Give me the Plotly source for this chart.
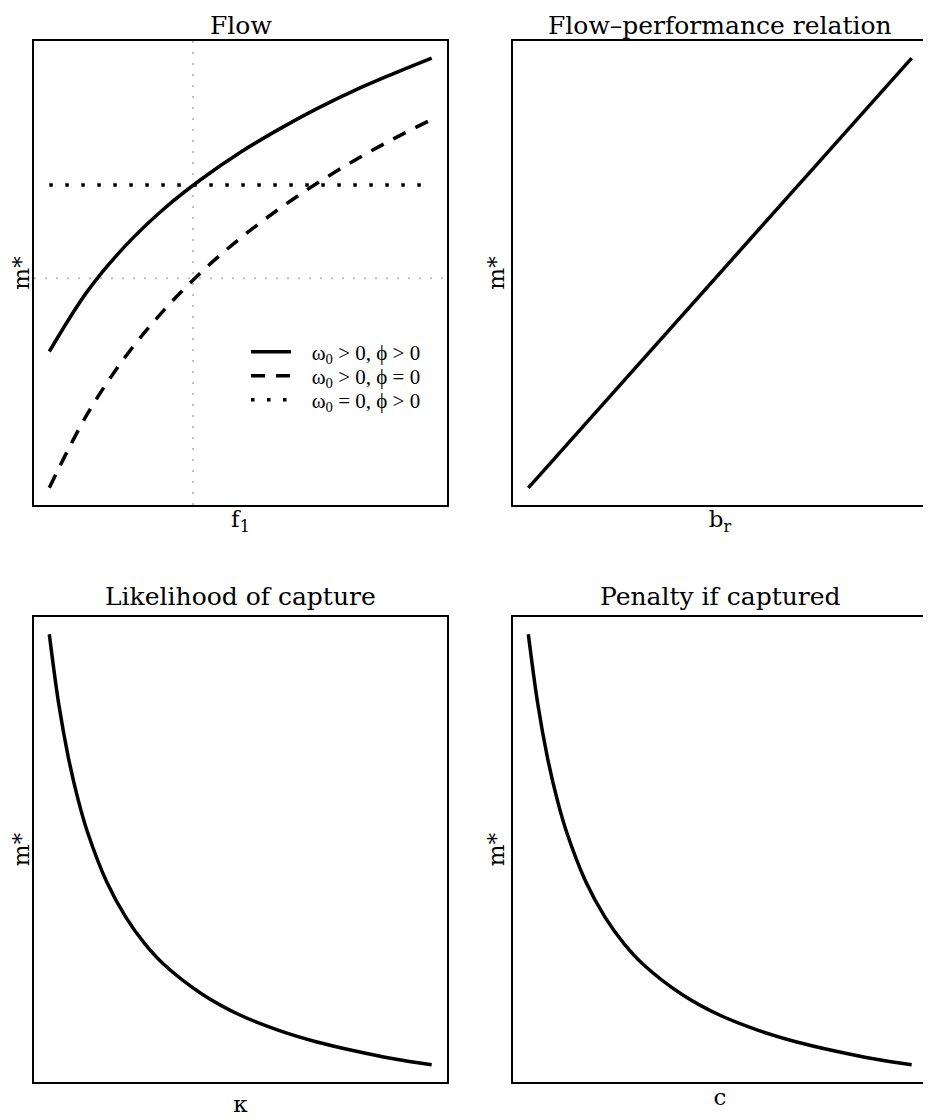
import plotly.graph_objects as go

# ---------------- data ----------------
# Panel 1: Flow (x = f1, normalised 0..1)
f1 = [0.0, 0.1, 0.2, 0.3, 0.4, 0.5, 0.6, 0.7, 0.8, 0.9, 1.0]
m_pos_pos = [0.316, 0.456, 0.562, 0.647, 0.717, 0.778, 0.831, 0.879, 0.922, 0.960, 0.996]
m_pos_zero = [0.0, 0.172, 0.305, 0.412, 0.502, 0.579, 0.646, 0.706, 0.760, 0.809, 0.854]
m_zero_pos = [0.702] * len(f1)
f1_ref = 0.376
m_ref = 0.486

# Panel 2: Flow-performance relation
b_r = [0.0, 0.25, 0.5, 0.75, 1.0]
m_br = [0.0, 0.25, 0.5, 0.75, 1.0]

# Panel 3: Likelihood of capture
kappa = [0.0, 0.025, 0.05, 0.075, 0.1, 0.15, 0.2, 0.25, 0.3, 0.4, 0.5, 0.6, 0.7, 0.8, 0.9, 1.0]
m_kappa = [1.0, 0.836, 0.713, 0.617, 0.540, 0.425, 0.343, 0.281, 0.233, 0.164, 0.115, 0.080, 0.053, 0.032, 0.014, 0.0]

# Panel 4: Penalty if captured
c_pen = [0.0, 0.025, 0.05, 0.075, 0.1, 0.15, 0.2, 0.25, 0.3, 0.4, 0.5, 0.6, 0.7, 0.8, 0.9, 1.0]
m_c = [1.0, 0.836, 0.713, 0.617, 0.540, 0.425, 0.343, 0.281, 0.233, 0.164, 0.115, 0.080, 0.053, 0.032, 0.014, 0.0]

titles = ["Flow", "Flow\u2013performance relation", "Likelihood of capture", "Penalty if captured"]
xlabels = ["f<sub>1</sub>", "b<sub>r</sub>", "\u03ba", "c"]
ylabel = "m*"
legend_names = ["\u03c9<sub>0</sub> > 0, \u03d5 > 0",
                "\u03c9<sub>0</sub> > 0, \u03d5 = 0",
                "\u03c9<sub>0</sub> = 0, \u03d5 > 0"]

# ---------------- figure ----------------
OFF = 8  # default page body margin
W, H = 931 - OFF, 1120 - OFF
SERIF = "DejaVu Serif"
LEG = "Liberation Serif, DejaVu Serif"

def px(p):
    return p - OFF

def rng(vals):
    lo, hi = min(vals), max(vals)
    pad = 0.04 * (hi - lo)
    return [lo - pad, hi + pad]

fig = go.Figure()
lw = 3.5
gap = "\u00a0" * 3

fig.add_trace(go.Scatter(x=f1, y=m_pos_pos, mode="lines", line=dict(color="black", width=lw, shape="spline"),
                         name=gap + legend_names[0], legend="legend", xaxis="x", yaxis="y"))
fig.add_trace(go.Scatter(x=f1, y=m_pos_zero, mode="lines", line=dict(color="black", width=lw, dash="14px,11px", shape="spline"),
                         name=gap + legend_names[1], legend="legend2", xaxis="x", yaxis="y"))
fig.add_trace(go.Scatter(x=f1, y=m_zero_pos, mode="lines", line=dict(color="black", width=lw, dash="3.5px,12.5px"),
                         name=gap + legend_names[2], legend="legend3", xaxis="x", yaxis="y"))
fig.add_trace(go.Scatter(x=b_r, y=m_br, mode="lines", line=dict(color="black", width=lw),
                         showlegend=False, xaxis="x2", yaxis="y2"))
fig.add_trace(go.Scatter(x=kappa, y=m_kappa, mode="lines", line=dict(color="black", width=lw, shape="spline"),
                         showlegend=False, xaxis="x3", yaxis="y3"))
fig.add_trace(go.Scatter(x=c_pen, y=m_c, mode="lines", line=dict(color="black", width=lw, shape="spline"),
                         showlegend=False, xaxis="x4", yaxis="y4"))

# domains in paper coordinates (targets in page pixels)
xd = [[px(34) / W, px(447) / W], [px(513) / W, px(927) / W]]
yd_top = [1 - px(505) / H, 1 - px(41) / H]
yd_bot = [1 - px(1082) / H, 1 - px(617) / H]
doms = [(xd[0], yd_top), (xd[1], yd_top), (xd[0], yd_bot), (xd[1], yd_bot)]
xr = [rng(f1), rng(b_r), rng(kappa), rng(c_pen)]
yr = [rng(m_pos_pos + m_pos_zero), rng(m_br), rng(m_kappa), rng(m_c)]
xstandoff = [5, 5, 13, 6]
title_tops = [8.5, 8.5, 580, 580]

axstyle = dict(showline=True, mirror=True, linecolor="black", linewidth=2, showticklabels=False,
               ticks="", showgrid=False, zeroline=False)
for i in range(4):
    sx = "" if i == 0 else str(i + 1)
    fig.layout["xaxis" + sx] = dict(domain=doms[i][0], range=xr[i], anchor="y" + sx,
                                    title=dict(text=xlabels[i], font=dict(family=SERIF, size=23, color="black"),
                                               standoff=xstandoff[i]),
                                    **axstyle)
    fig.layout["yaxis" + sx] = dict(domain=doms[i][1], range=yr[i], anchor="x" + sx,
                                    title=dict(text=ylabel, font=dict(family=SERIF, size=23, color="black"), standoff=0),
                                    **axstyle)
    fig.add_annotation(text=titles[i], xref="paper", yref="paper",
                       x=(doms[i][0][0] + doms[i][0][1]) / 2, y=1 - px(title_tops[i]) / H,
                       xanchor="center", yanchor="top", showarrow=False,
                       font=dict(family=SERIF, size=25, color="black"))

# grey reference lines in panel 1
fig.add_shape(type="line", xref="x", yref="y domain", x0=f1_ref, x1=f1_ref, y0=0, y1=1,
              line=dict(color="#BEBEBE", width=2, dash="2px,9px"), layer="below")
fig.add_shape(type="line", xref="x domain", yref="y", x0=0, x1=1, y0=m_ref, y1=m_ref,
              line=dict(color="#BEBEBE", width=2, dash="2px,9px"), layer="below")

leg_rows = [352, 376, 400]
legstyle = dict(xanchor="left", yanchor="middle", bgcolor="rgba(0,0,0,0)",
                font=dict(family=LEG, size=21, color="black"), itemwidth=40, tracegroupgap=0)
fig.update_layout(
    width=W, height=H, margin=dict(l=0, r=0, t=0, b=0),
    paper_bgcolor="white", plot_bgcolor="white",
    showlegend=True,
    legend=dict(x=px(246) / W, y=1 - px(leg_rows[0]) / H, **legstyle),
    legend2=dict(x=px(246) / W, y=1 - px(leg_rows[1]) / H, **legstyle),
    legend3=dict(x=px(246) / W, y=1 - px(leg_rows[2]) / H, **legstyle),
)

fig.write_html("out.html")
